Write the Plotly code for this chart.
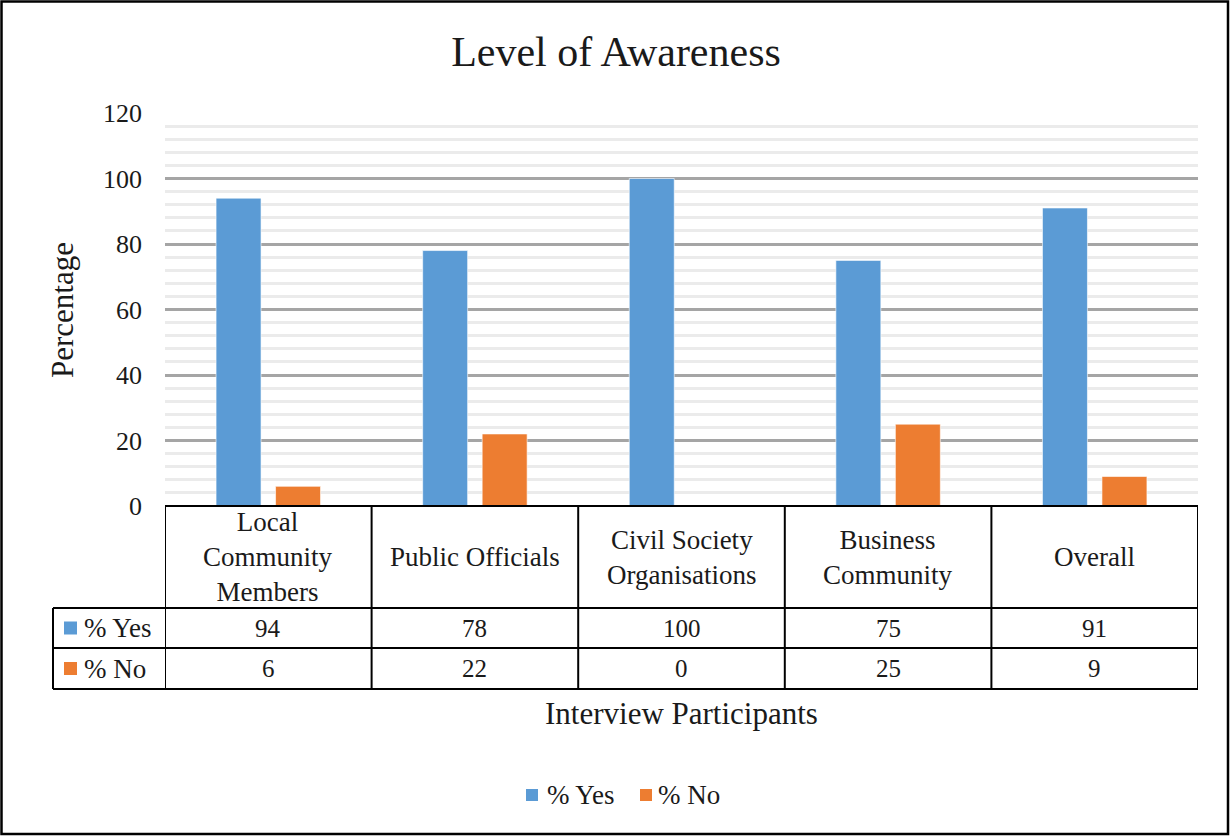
import plotly.graph_objects as go

# ---- data ----
categories = ["Local Community Members", "Public Officials", "Civil Society Organisations",
              "Business Community", "Overall"]
header_labels = ["Local<br>Community<br>Members", "Public Officials", "Civil Society<br>Organisations",
                 "Business<br>Community", "Overall"]
yes_values = [94, 78, 100, 75, 91]
no_values = [6, 22, 0, 25, 9]
series_names = ["% Yes", "% No"]
title_text = "Level of Awareness"
y_title = "Percentage"
x_title = "Interview Participants"
y_ticks = [0, 20, 40, 60, 80, 100, 120]

# ---- styles ----
FONT = "Liberation Serif, Times New Roman, serif"
BLUE = "#5B9BD5"
ORANGE = "#ED7D31"
TXT = "#1a1a1a"
W, H = 1230, 836
# plot area in reference pixel coordinates
PX0, PX1, PY0, PY1 = 165, 1198, 113, 506
PW = PX1 - PX0
PH = PY1 - PY0
L = PX0
T = PY0
R = W - L - PW
B = H - T - PH


def px_x(px):
    return (px - PX0) / PW


def px_y(py):
    return (PY1 - py) / PH


fig = go.Figure()
fig.add_trace(go.Bar(x=list(range(len(categories))), y=yes_values, name=series_names[0],
                     marker=dict(color=BLUE, line=dict(color="rgba(255,255,255,0.6)", width=1)),
                     hovertext=categories))
fig.add_trace(go.Bar(x=list(range(len(categories))), y=no_values, name=series_names[1],
                     marker=dict(color=ORANGE, line=dict(color="rgba(255,255,255,0.6)", width=1)),
                     hovertext=categories))

shapes = []
annotations = []
line_style = dict(color="black", width=2)

# table rows (reference pixel y positions)
y_top, y_hdr, y_yes, y_no = 506, 608, 648, 689
x_leg = 53
n = len(categories)
shapes.append(dict(type="line", xref="x", yref="paper", x0=-0.5, x1=n - 0.5,
                   y0=px_y(y_top), y1=px_y(y_top), line=line_style))
for yy in (y_hdr, y_yes, y_no):
    shapes.append(dict(type="line", xref="paper", yref="paper", x0=px_x(x_leg), x1=1,
                       y0=px_y(yy), y1=px_y(yy), line=line_style))
for i in range(n + 1):
    shapes.append(dict(type="line", xref="x", yref="paper", x0=i - 0.5, x1=i - 0.5,
                       y0=px_y(y_top), y1=px_y(y_no), line=line_style))
shapes.append(dict(type="line", xref="paper", yref="paper", x0=px_x(x_leg), x1=px_x(x_leg),
                   y0=px_y(y_hdr), y1=px_y(y_no), line=line_style))

# legend keys inside the table
for (yy0, yy1), col, name in zip([(y_hdr, y_yes), (y_yes, y_no)], [BLUE, ORANGE], series_names):
    cy = (yy0 + yy1) / 2
    shapes.append(dict(type="rect", xref="paper", yref="paper", x0=px_x(64), x1=px_x(77),
                       y0=px_y(cy + 6.5), y1=px_y(cy - 6.5), fillcolor=col, line=dict(width=0)))
    annotations.append(dict(text=name, xref="paper", yref="paper", x=px_x(82), y=px_y(cy),
                            xanchor="left", yanchor="middle", showarrow=False,
                            font=dict(family=FONT, size=27, color=TXT)))

# header and values
for i in range(n):
    annotations.append(dict(text=header_labels[i], xref="x", yref="paper", x=i,
                            y=px_y((y_top + y_hdr) / 2), xanchor="center", yanchor="middle",
                            showarrow=False, font=dict(family=FONT, size=27, color=TXT)))
    annotations.append(dict(text=str(yes_values[i]), xref="x", yref="paper", x=i,
                            y=px_y((y_hdr + y_yes) / 2), xanchor="center", yanchor="middle",
                            showarrow=False, font=dict(family=FONT, size=25, color=TXT)))
    annotations.append(dict(text=str(no_values[i]), xref="x", yref="paper", x=i,
                            y=px_y((y_yes + y_no) / 2), xanchor="center", yanchor="middle",
                            showarrow=False, font=dict(family=FONT, size=25, color=TXT)))

# axis titles
annotations.append(dict(text=x_title, xref="paper", yref="paper", x=px_x(681), y=px_y(714),
                        xanchor="center", yanchor="middle", showarrow=False,
                        font=dict(family=FONT, size=31, color=TXT)))
annotations.append(dict(text=y_title, xref="paper", yref="paper", x=px_x(62), y=px_y(310),
                        xanchor="center", yanchor="middle", textangle=-90, showarrow=False,
                        font=dict(family=FONT, size=31, color=TXT)))

# bottom legend (custom, to match the compact key spacing)
leg_items = [(526, 545), (640, 656)]
for (sx, tx), col, name in zip(leg_items, [BLUE, ORANGE], series_names):
    shapes.append(dict(type="rect", xref="paper", yref="paper", x0=px_x(sx), x1=px_x(sx + 12),
                       y0=px_y(801), y1=px_y(789), fillcolor=col, line=dict(width=0)))
    annotations.append(dict(text=name, xref="paper", yref="paper", x=px_x(tx), y=px_y(795),
                            xanchor="left", yanchor="middle", showarrow=False,
                            font=dict(family=FONT, size=27, color=TXT)))

# outer border
shapes.append(dict(type="rect", xref="paper", yref="paper", x0=px_x(1.5), x1=px_x(1228),
                   y0=px_y(834), y1=px_y(1.5), line=dict(color="black", width=2.5),
                   fillcolor="rgba(0,0,0,0)", layer="above"))

fig.update_layout(
    width=W, height=H,
    margin=dict(l=L, r=R, t=T, b=B, autoexpand=False),
    paper_bgcolor="white", plot_bgcolor="white",
    barmode="group", bargap=0.424, bargroupgap=0.244,
    title=dict(text=title_text, x=616 / W, xanchor="center", y=1 - 51 / H,
               yanchor="middle", font=dict(family=FONT, size=42, color=TXT)),
    xaxis=dict(range=[-0.5, n - 0.5], showticklabels=False, showgrid=False, zeroline=False,
               showline=False, ticks=""),
    yaxis=dict(range=[0, 120], tickvals=y_ticks, showgrid=True, gridcolor="#A5A5A5", gridwidth=2.5,
               minor=dict(dtick=4, showgrid=True, gridcolor="#EBEBEB", gridwidth=2.5),
               zeroline=False, showline=False, ticks="", ticklabelstandoff=22,
               tickfont=dict(family=FONT, size=26, color=TXT)),
    showlegend=False,
    shapes=shapes, annotations=annotations,
)

fig.write_html("out.html", config={"displayModeBar": False},
               post_script="document.body.style.margin='0';")
